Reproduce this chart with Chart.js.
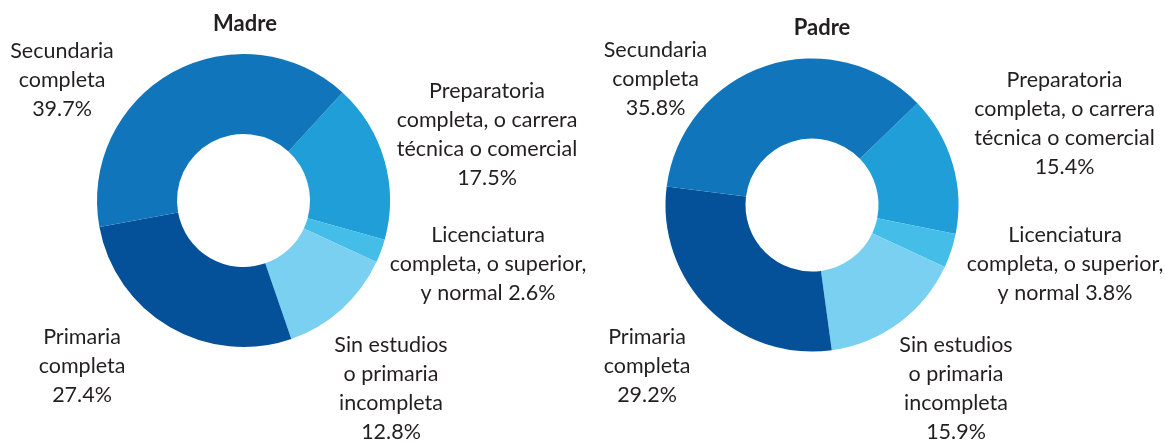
<!DOCTYPE html>
<html>
<head>
<meta charset="utf-8">
<script src="https://cdn.jsdelivr.net/npm/chart.js@4/dist/chart.umd.min.js"></script>
<style>
  html, body { margin: 0; padding: 0; background: #fff; }
  body { width: 1166px; height: 442px; position: relative; overflow: hidden; }
  .box { position: absolute; top: 0; height: 442px; }
</style>
</head>
<body>
<div class="box" style="left:0;width:600px"><canvas id="madre"></canvas></div>
<div class="box" style="left:583px;width:583px"><canvas id="padre"></canvas></div>
<script>
// categorías (en el orden de dibujo, a partir de la rotación)
const categories = [
  'Preparatoria completa, o carrera técnica o comercial',
  'Licenciatura completa, o superior, y normal',
  'Sin estudios o primaria incompleta',
  'Primaria completa',
  'Secundaria completa'
];
// cortes de línea para las etiquetas
const categoryLines = [
  ['Preparatoria', 'completa, o carrera', 'técnica o comercial'],
  ['Licenciatura', 'completa, o superior,', 'y normal'],
  ['Sin estudios', 'o primaria', 'incompleta'],
  ['Primaria', 'completa'],
  ['Secundaria', 'completa']
];
const madreValues = [17.5, 2.6, 12.8, 27.4, 39.7];
const padreValues = [15.4, 3.8, 15.9, 29.2, 35.8];
const colors = ['#1f9ed8', '#45bde9', '#7ad0f0', '#04519a', '#1175bb'];

// posición de las etiquetas (x centro, y primera línea base), relativa a cada canvas
const madreLayout = {
  title: { text: 'Madre', x: 245, y: 31 },
  rotation: 42.5,
  padding: { left: 97, top: 54, right: 210, bottom: 95 },
  labels: [
    { x: 487, y: 98, inline: false },
    { x: 488, y: 242, inline: true },
    { x: 391, y: 352, inline: false },
    { x: 82, y: 344, inline: false },
    { x: 62, y: 58, inline: false }
  ]
};
const padreLayout = {
  title: { text: 'Padre', x: 239, y: 35 },
  rotation: 46,
  padding: { left: 82.5, top: 58.5, right: 207.5, bottom: 90.5 },
  labels: [
    { x: 481.5, y: 87, inline: false },
    { x: 482, y: 242, inline: true },
    { x: 373, y: 352, inline: false },
    { x: 64, y: 344, inline: false },
    { x: 72.5, y: 57, inline: false }
  ]
};

const FONT = 'Lato, "Open Sans", sans-serif';
const LINE_H = 29;

const labelPlugin = {
  id: 'outsideLabels',
  afterDraw(chart) {
    const layout = chart.options.plugins.outsideLabels.layout;
    const values = chart.data.datasets[0].data;
    const ctx = chart.ctx;
    ctx.save();
    ctx.fillStyle = '#231f20';
    ctx.textAlign = 'center';
    ctx.textBaseline = 'alphabetic';
    ctx.font = 'bold 22px ' + FONT;
    ctx.fillText(layout.title.text, layout.title.x, layout.title.y);
    ctx.font = '21.5px ' + FONT;
    layout.labels.forEach((pos, i) => {
      const pct = values[i].toFixed(1) + '%';
      const lines = categoryLines[i].slice();
      if (pos.inline) {
        lines[lines.length - 1] += ' ' + pct;
      } else {
        lines.push(pct);
      }
      lines.forEach((line, k) => ctx.fillText(line, pos.x, pos.y + k * LINE_H));
    });
    ctx.restore();
  }
};

function makeDonut(id, values, layout) {
  return new Chart(document.getElementById(id), {
    type: 'doughnut',
    data: {
      labels: categories,
      datasets: [{
        data: values,
        backgroundColor: colors,
        borderWidth: 0,
        hoverOffset: 0
      }]
    },
    options: {
      responsive: true,
      maintainAspectRatio: false,
      animation: false,
      cutout: '45.4%',
      rotation: layout.rotation,
      layout: { padding: layout.padding },
      events: [],
      plugins: {
        legend: { display: false },
        tooltip: { enabled: false },
        outsideLabels: { layout: layout }
      }
    },
    plugins: [labelPlugin]
  });
}

makeDonut('madre', madreValues, madreLayout);
makeDonut('padre', padreValues, padreLayout);
</script>
</body>
</html>
